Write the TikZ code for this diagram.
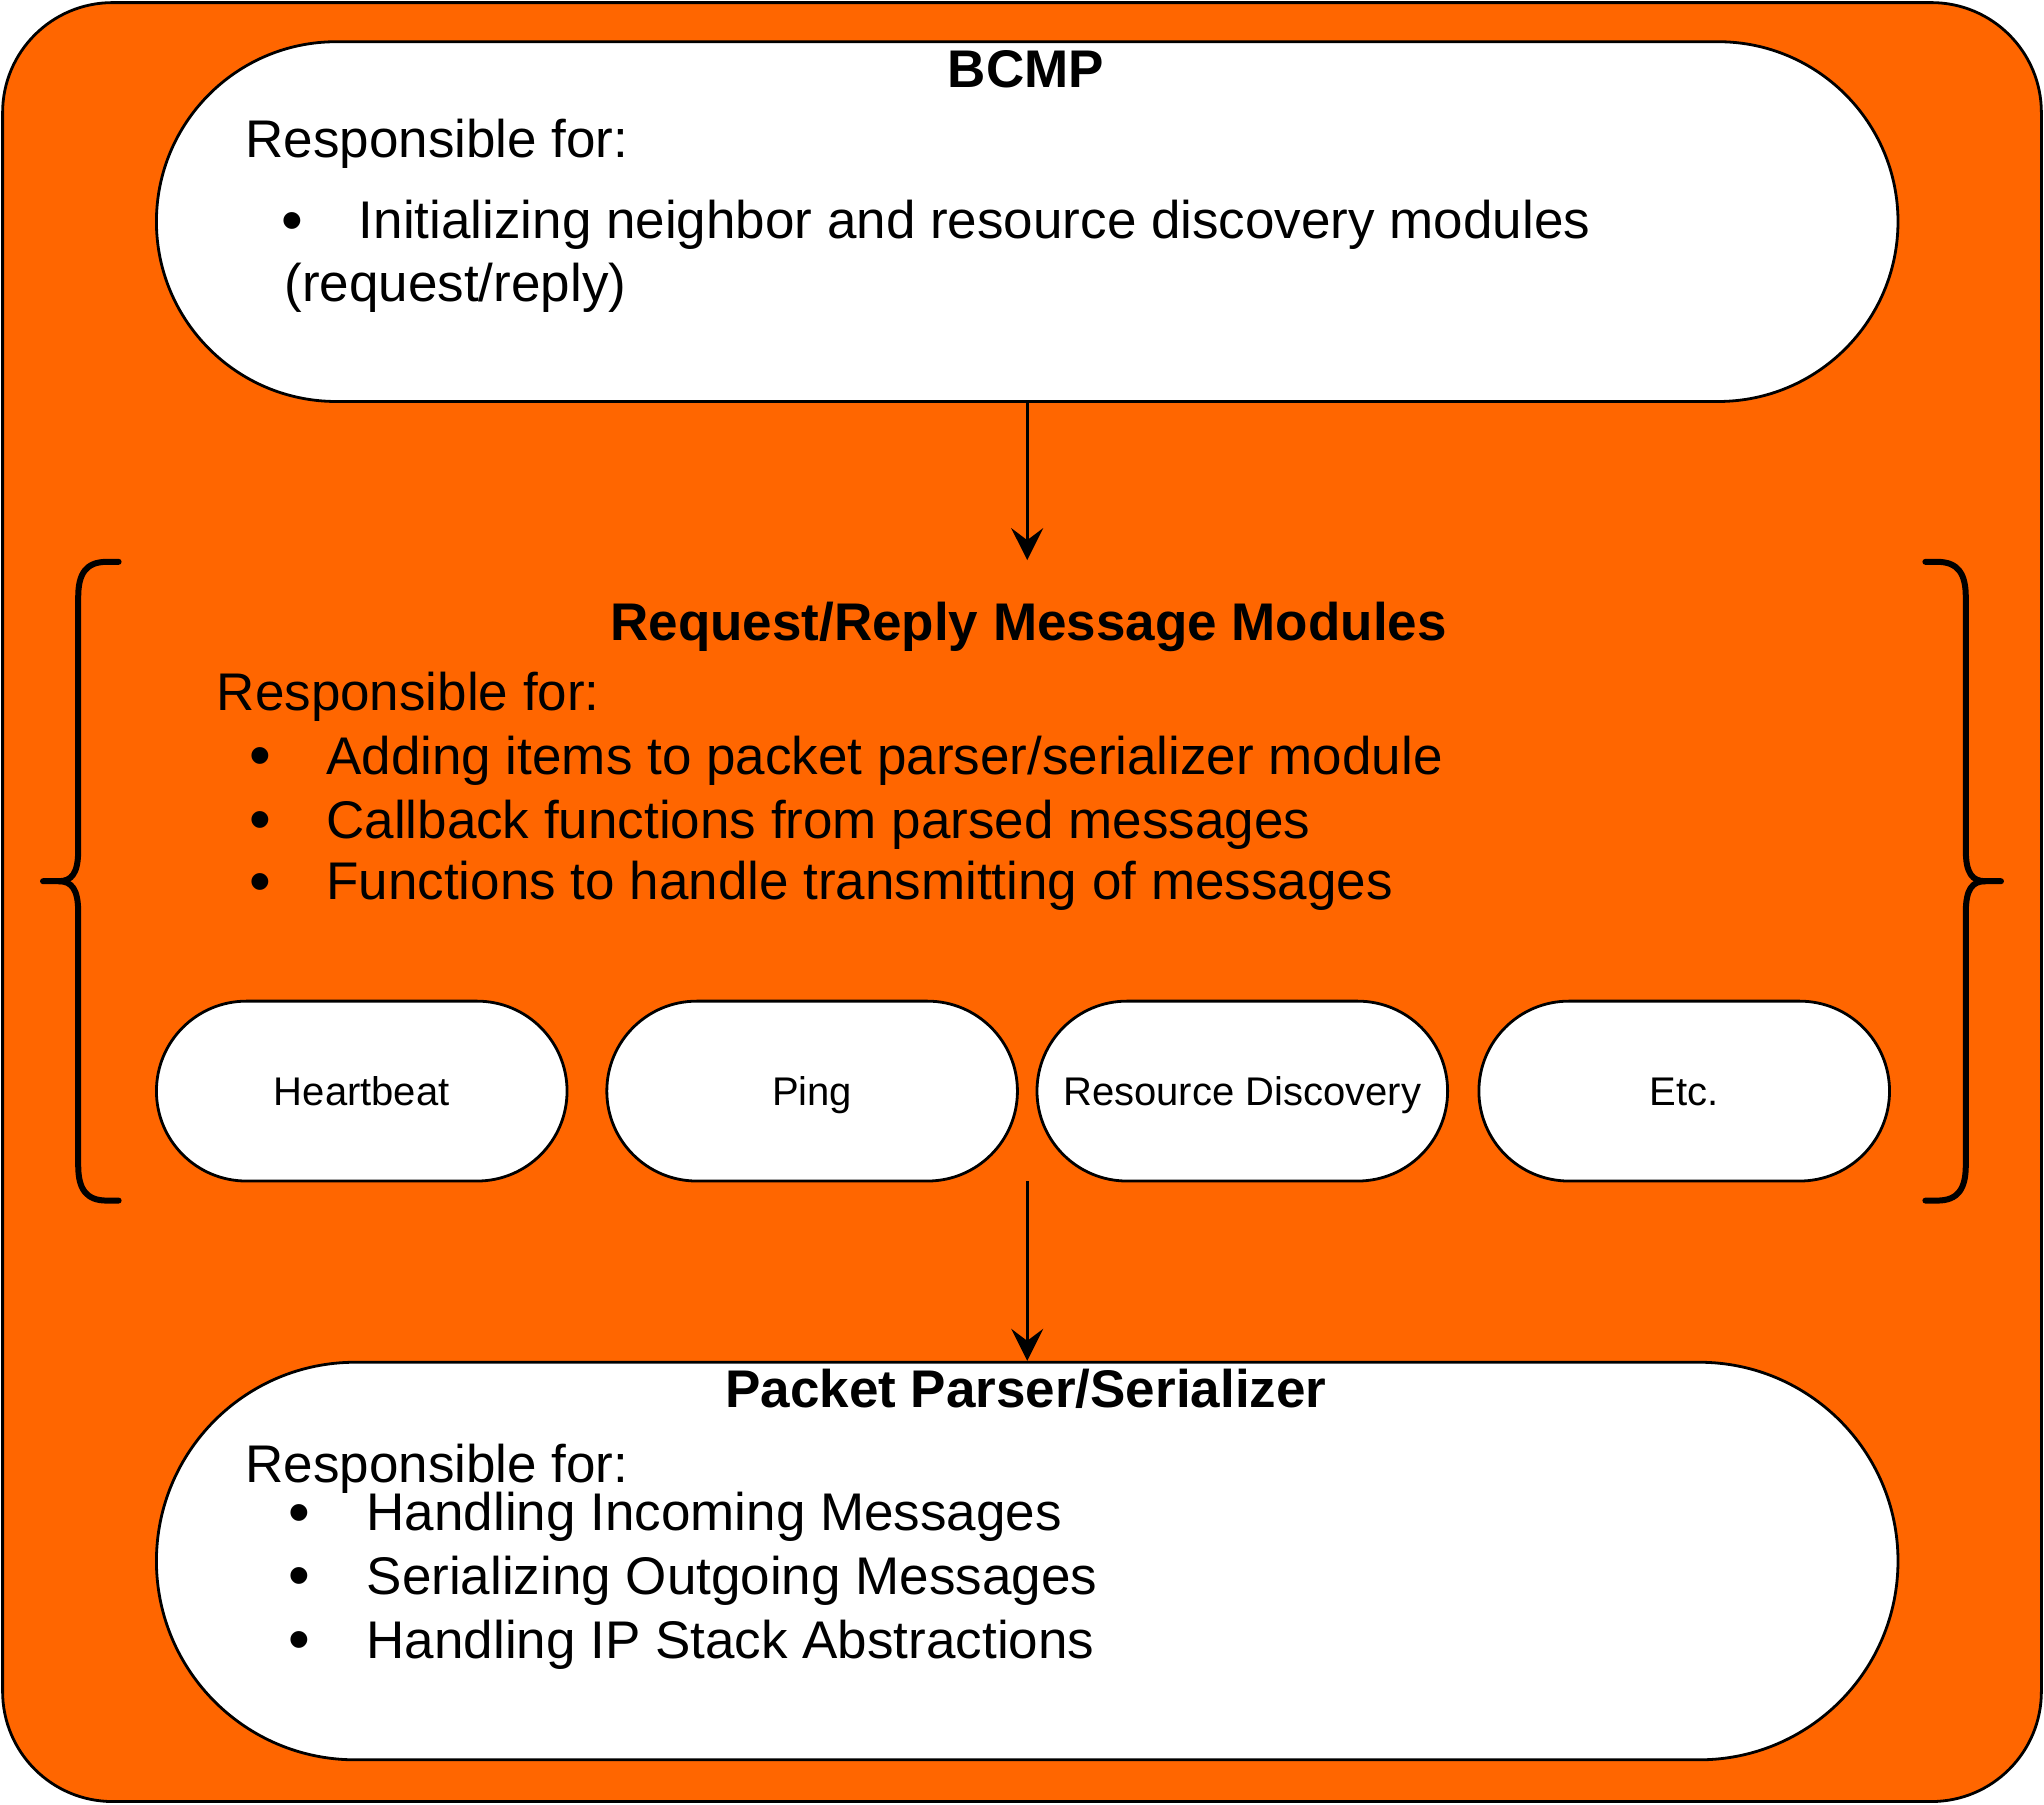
\documentclass[tikz,border=0pt]{standalone}
\usepackage{fontspec}
\setmainfont{Liberation Sans}
\usetikzlibrary{shapes.misc,arrows.meta}
\definecolor{frameorange}{HTML}{FF6600}
\def\u{0.6518pt}
\tikzset{
  framebox/.style={draw=black, line width=1.4pt, fill=frameorange, rounded corners=55pt, inner sep=0pt, minimum width=1564*\u, minimum height=1380*\u},
  pill/.style={rounded rectangle, draw=black, line width=1.4pt, fill=white, inner sep=0pt},
  bigpill/.style={pill, minimum width=1336*\u},
  smallpill/.style={pill, minimum width=315*\u, minimum height=138*\u, font=\fontsize{20}{24}\selectfont, text height=14.3pt, text depth=0pt},
  txt/.style={inner sep=0pt, anchor=base west, font=\fontsize{26.5}{32}\selectfont, text depth=0pt},
  ttl/.style={inner sep=0pt, anchor=base, font=\fontsize{26.5}{32}\selectfont\bfseries},
  bul/.style={inner sep=0pt, anchor=base, font=\fontsize{31}{32}\selectfont, text height=16pt, text depth=0pt},
  bracestroke/.style={draw=black, line width=3pt, line cap=round, line join=round},
  conn/.style={draw=black, line width=1.4pt, -{Stealth[length=16pt, width=16pt, inset=6pt]}},
}
\begin{document}
\begin{tikzpicture}[x=0.6518pt, y=-0.6518pt]
\useasboundingbox (0,0) rectangle (1568,1384);
\node[framebox] (outer) at (784,692) {};

% BCMP
\node[bigpill, minimum height=276*\u] (bcmp) at (788,170) {};
\node[ttl] (bcmpt) at (787,67) {BCMP};
\node[txt] (bcmpr) at (188,121) {Responsible for:};
\node[bul] (bcmpb1) at (224,185) {•};
\node[txt] (bcmpi1) at (275,183) {Initializing neighbor and resource discovery modules};
\node[txt] (bcmpi2) at (218,231) {(request/reply)};

% Request/Reply group
\node[inner sep=0pt, minimum width=1448*\u, minimum height=476*\u] (rr) at (784,668) {};
\node[ttl] (rrt) at (789,491) {Request/Reply Message Modules};
\node[txt] (rrr) at (166,545) {Responsible for:};
\node[bul] (rrb1) at (200,596) {•};
\node[txt] (rri1) at (250,594) {Adding items to packet parser/serializer module};
\node[bul] (rrb2) at (200,645) {•};
\node[txt] (rri2) at (250,643) {Callback functions from parsed messages};
\node[bul] (rrb3) at (200,692) {•};
\node[txt] (rri3) at (250,690) {Functions to handle transmitting of messages};

\node[smallpill] (hb) at (277.5,837) {Heartbeat};
\node[smallpill] (ping) at (623,837) {Ping};
\node[smallpill] (rd) at (953,837) {Resource Discovery};
\node[smallpill] (etc) at (1292,837) {Etc.};

% braces
\draw[bracestroke] (91,431) -- (82,431) .. controls (66,431) and (60,440) .. (60,458)
  -- (60,652) .. controls (60,670) and (55,676) .. (45,676) -- (33,676);
\draw[bracestroke] (45,676) .. controls (55,676) and (60,682) .. (60,700)
  -- (60,894) .. controls (60,912) and (66,921) .. (82,921) -- (91,921);
\draw[bracestroke] (1477,431) -- (1486,431) .. controls (1502,431) and (1508,440) .. (1508,458)
  -- (1508,652) .. controls (1508,670) and (1513,676) .. (1523,676) -- (1535,676);
\draw[bracestroke] (1523,676) .. controls (1513,676) and (1508,682) .. (1508,700)
  -- (1508,894) .. controls (1508,912) and (1502,921) .. (1486,921) -- (1477,921);

% Packet parser
\node[bigpill, minimum height=305*\u] (pp) at (788,1197.5) {};
\node[ttl] (ppt) at (787,1080) {Packet Parser/Serializer};
\node[txt] (ppr) at (188,1137) {Responsible for:};
\node[bul] (ppb1) at (230,1176) {•};
\node[txt] (ppi1) at (281,1174) {Handling Incoming Messages};
\node[bul] (ppb2) at (230,1225) {•};
\node[txt] (ppi2) at (281,1223) {Serializing Outgoing Messages};
\node[bul] (ppb3) at (230,1274) {•};
\node[txt] (ppi3) at (281,1272) {Handling IP Stack Abstractions};

% connectors
\coordinate (rrtop) at (bcmp.south |- rr.north);
\coordinate (rrbot) at (bcmp.south |- rr.south);
\draw[conn] (bcmp.south) -- (rrtop);
\draw[conn] (rrbot) -- (pp.north);
\end{tikzpicture}
\end{document}
